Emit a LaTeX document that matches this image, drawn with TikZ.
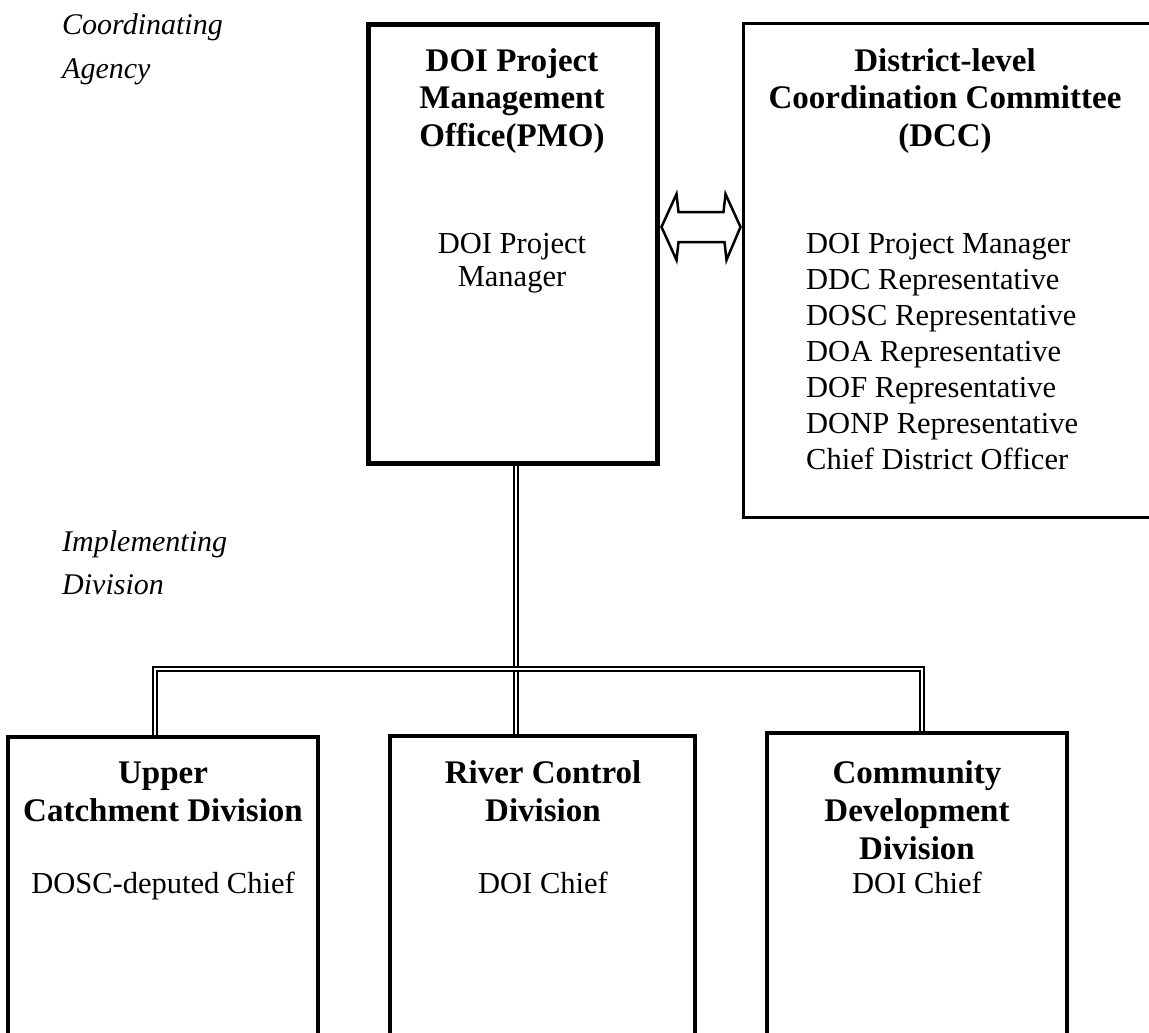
\documentclass[tikz,border=0pt]{standalone}
\usepackage{fontspec}
\setmainfont{Liberation Serif}
\usetikzlibrary{calc}
\begin{document}
\begin{tikzpicture}[x=1pt,y=-1pt,
  txt/.style={font=\fontsize{30.5}{36}\selectfont, inner sep=0pt, anchor=base},
  ttl/.style={txt, font=\fontsize{33}{38}\selectfont\bfseries},
  lbl/.style={txt, anchor=base west, font=\fontsize{30}{36}\selectfont\itshape},
  lst/.style={txt, anchor=base west},
  box/.style={draw, line width=3pt, inner sep=0pt},
  dbl/.style={draw, double, line width=1.8pt, double distance=2pt},
  arrowline/.style={draw, line width=2.5pt, line join=miter}]
\useasboundingbox (0,0) rectangle (1149,1033);
\fill[white] (0,0) rectangle (1149,1033);
\clip (0,0) rectangle (1149,1033);

% boxes
\node[box, line width=5pt, minimum width=289pt, minimum height=438pt] (pmo) at (512.5,244) {};
\node[box, minimum width=427pt, minimum height=493pt] (dcc) at (956.5,270.5) {};
\node[box, line width=3.5pt, minimum width=310pt, minimum height=330pt] (b1) at (163,902) {};
\node[box, line width=3.5pt, minimum width=305pt, minimum height=330pt] (b2) at (542.5,901) {};
\node[box, line width=3.5pt, minimum width=300pt, minimum height=330pt] (b3) at (917,898) {};

% side labels
\node[lbl] (l1) at (62,35) {Coordinating};
\node[lbl] (l2) at (62,78) {Agency};
\node[lbl] (l3) at (62,551) {Implementing};
\node[lbl] (l4) at (62,594) {Division};

% PMO text
\node[ttl] (p1) at (512,71) {DOI Project};
\node[ttl] (p2) at (512,109) {Management};
\node[ttl] (p3) at (512,146) {Office(PMO)};
\node[txt] (p4) at (512,253) {DOI Project};
\node[txt] (p5) at (512,286) {Manager};

% DCC text
\node[ttl] (d1) at (945,71) {District-level};
\node[ttl] (d2) at (945,109) {Coordination Committee};
\node[ttl] (d3) at (945,146) {(DCC)};
\node[lst] (m1) at (806,253) {DOI Project Manager};
\node[lst] (m2) at (806,289) {DDC Representative};
\node[lst] (m3) at (806,325) {DOSC Representative};
\node[lst] (m4) at (806,361) {DOA Representative};
\node[lst] (m5) at (806,397) {DOF Representative};
\node[lst] (m6) at (806,433) {DONP Representative};
\node[lst] (m7) at (806,469) {Chief District Officer};

% bottom boxes text
\node[ttl] (u1) at (163,783) {Upper};
\node[ttl] (u2) at (163,821) {Catchment Division};
\node[txt] (u3) at (163,893) {DOSC-deputed Chief};
\node[ttl] (r1) at (543,783) {River Control};
\node[ttl] (r2) at (543,821) {Division};
\node[txt] (r3) at (543,893) {DOI Chief};
\node[ttl] (c1) at (917,783) {Community};
\node[ttl] (c2) at (917,821) {Development};
\node[ttl] (c3) at (917,859) {Division};
\node[txt] (c4) at (917,893) {DOI Chief};

% connectors
\coordinate (stem) at (516,0);
\coordinate (jl) at (155,669);
\coordinate (jr) at (922,669);
\draw[dbl] (pmo.south -| stem) -- (b2.north -| stem);
\draw[dbl] (b1.north -| jl) -- (jl) -- (jr) -- (b3.north -| jr);

% double arrow between PMO and DCC
\coordinate (aL) at ($(pmo.east)+(2,-17)$);
\coordinate (aR) at ($(dcc.west |- aL)+(-1,0)$);
\draw[arrowline] (aL) -- ++(15,-33) -- ++(2,18) -- ($(aR)+(-17,-15)$) -- ++(2,-18) -- (aR)
  -- ++(-14,33) -- ++(-2,-18) -- ($(aL)+(17,15)$) -- ++(-2,18) -- cycle;
\end{tikzpicture}
\end{document}
